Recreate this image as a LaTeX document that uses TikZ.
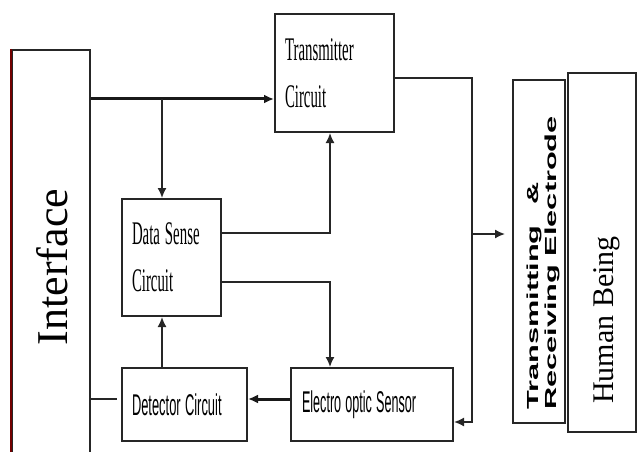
\documentclass[tikz,border=0pt]{standalone}
\usepackage{fontspec}
\usepackage{graphicx}
\setmainfont{Liberation Serif}
\newfontfamily\labelsans{Liberation Sans}
\newcommand{\narrow}[2][0.45]{\scalebox{#1}[1]{#2}}
\usetikzlibrary{arrows.meta}
\usetikzlibrary{calc}

\begin{document}
\begin{tikzpicture}[x=1pt, y=-1pt,
    block/.style={draw=black!85, line width=2pt, inner sep=0pt},
    wire/.style={draw=black!85, line width=1.6pt},
    thickwire/.style={draw=black!90, line width=3pt},
    tip/.style={-{Latex[length=10pt,width=9pt]}},
    serifcond/.style={font=\fontsize{33}{47}\selectfont},
    sanscond/.style={font=\labelsans\fontsize{30}{30}\selectfont}]
        \useasboundingbox (0,0) rectangle (638,452);
        \clip (0,0) rectangle (638,452);

        % blocks
        \node[block, minimum width=78pt, minimum height=412pt] (iface) at
        (51,256) {};
        \draw[line width=2pt, draw=red!45!black] (iface.north west) -- (iface.south west);

        \node[block, serifcond, minimum width=119pt, minimum height=118pt,
        text width=99pt, align=left] (tx) at (334.5,73)
        {\narrow{Transmitter}\\\narrow{Circuit}};

        \node[block, serifcond, minimum width=99pt, minimum height=117pt,
        text width=79pt, align=left] (ds) at (171.5,257.5)
        {\narrow{Data Sense}\\\narrow{Circuit}};

        \node[block, sanscond, minimum width=125pt, minimum height=73pt,
        text width=105pt, align=left] (det) at (184.5,404.5)
        {\narrow[0.43]{Detector Circuit}};

        \node[block, sanscond, minimum width=162pt, minimum height=73pt,
        text width=140pt, align=left] (eos) at (372,404.5)
        {\narrow[0.42]{Electro optic Sensor}};

        \node[block, minimum width=52pt, minimum height=343pt] (elec) at
        (539,251.5) {};
        \node[block, minimum width=68pt, minimum height=359pt] (human) at
        (602,252.5) {};

        % rotated labels
        \node[rotate=90, anchor=base, inner sep=0pt,
        font=\fontsize{44}{44}\selectfont] (ifaceT) at (67,267) {Interface};
        \node[rotate=90, anchor=base, inner sep=0pt,
        font=\fontsize{30}{30}\selectfont] (humanT) at (613,320) {Human Being};
        \node[rotate=90, anchor=base west, inner sep=0pt,
        font=\labelsans\bfseries\fontsize{16}{16}\selectfont] (elecA) at
        (538,410) {\narrow[1.92]{Transmitting\hspace{11pt}\&}};
        \node[rotate=90, anchor=base west, inner sep=0pt,
        font=\labelsans\bfseries\fontsize{16}{16}\selectfont] (elecB) at
        (556,410) {\narrow[1.92]{Receiving Electrode}};

        % connectors
        \coordinate (split) at (162,99);
        \coordinate (up) at (330,233);
        \coordinate (down) at (330,282);
        \coordinate (ret) at (117,399);
        \coordinate (bus) at (472,78);
        \coordinate (busend) at (472,422);
        \coordinate (tap) at (472,234);

        \draw[thickwire, tip] (split -| iface.east) -- (split -| tx.west);
        \draw[wire, tip] (split) -- (split |- ds.north);
        \draw[wire, tip] (up -| ds.east) -- (up) -- (up |- tx.south);
        \draw[wire, tip] (down -| ds.east) -- (down) -- (down |- eos.north);
        \draw[wire, tip] (split |- det.north) -- (split |- ds.south);
        \draw[wire] (ret -| iface.east) -- (ret);
        \draw[thickwire, tip] (ret -| eos.west) -- (ret -| det.east);
        \draw[wire, tip] (bus -| tx.east) -- (bus) -- (busend) -- (busend -|
        eos.east);
        \draw[wire, tip] (tap) -- ($(tap -| elec.west) + (-7,0)$);
    \end{tikzpicture}
\end{document}
